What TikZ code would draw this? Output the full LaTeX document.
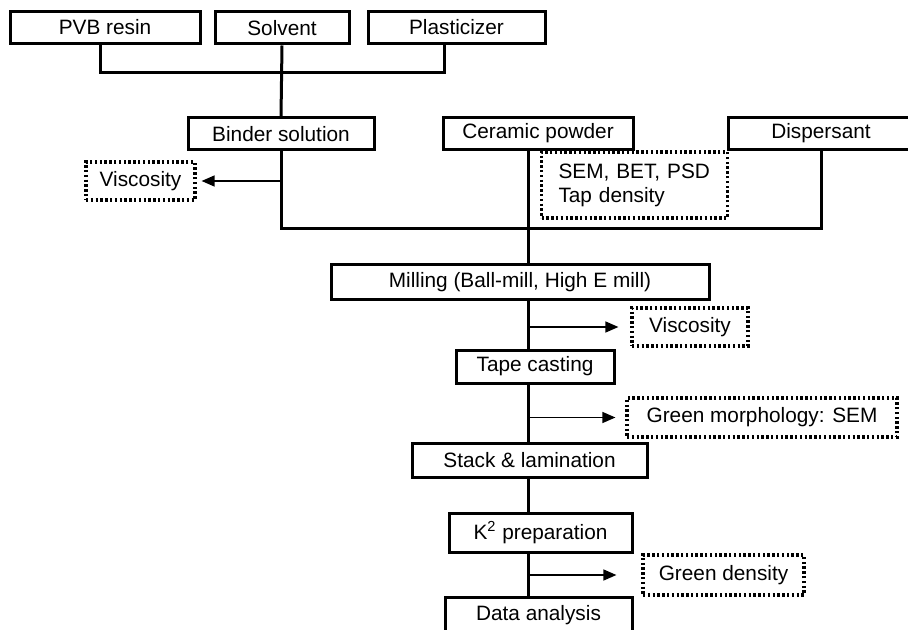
\documentclass[tikz,border=0pt]{standalone}
\usepackage{fontspec}
\setmainfont{Liberation Sans}
\usetikzlibrary{arrows.meta}
\tikzset{
  stepbox/.style={draw, line width=1.5pt, inner sep=0pt, minimum height=16pt},
  testbox/.style={draw, line width=1.6pt, dash pattern=on 1.2pt off 1.2pt, inner sep=0pt},
  feed/.style={line width=1.5pt},
  probe/.style={line width=0.7pt, -{Triangle[length=6.5pt,width=5.5pt]}},
}

\begin{document}
\begin{tikzpicture}[x=0.5pt, y=-0.5pt, font=\fontsize{10.4}{12}\selectfont]
  \useasboundingbox (0,0) rectangle (908,630);
  \node[stepbox, minimum width=95pt] (pvb) at (105,27.5) {PVB resin};
  \node[stepbox, minimum width=67pt] (solvent) at (282,28) {Solvent};
  \node[stepbox, minimum width=88.5pt] (plast) at (456.5,27.5) {Plasticizer};
  \node[stepbox, minimum width=93pt] (binder) at (281,134) {Binder solution};
  \node[stepbox, minimum width=95pt] (ceramic) at (538,133.5) {Ceramic powder};
  \node[stepbox, minimum width=93pt] (disp) at (821,133.5) {Dispersant};
  \node[testbox, minimum width=54.5pt, minimum height=19pt] (visc1) at (140.5,181) {Viscosity};
  \node[testbox, minimum height=33pt, text width=76pt, align=left, inner xsep=8.5pt] (sem) at (634.5,185)
    {SEM, BET, PSD\\Tap density};
  \node[stepbox, minimum width=189pt, minimum height=17pt] (milling) at (520,282) {Milling (Ball-mill, High E mill)};
  \node[testbox, minimum width=58pt, minimum height=19pt] (visc2) at (690,327) {Viscosity};
  \node[stepbox, minimum width=79pt, minimum height=16.5pt] (tape) at (535,366.5) {Tape casting};
  \node[testbox, minimum width=135pt, minimum height=19.5pt] (morph) at (762,417.5) {Green morphology: SEM};
  \node[stepbox, minimum width=117.5pt, minimum height=17pt] (stack) at (529.5,460) {Stack \& lamination};
  \node[stepbox, minimum width=91.5pt, minimum height=19.5pt] (ktwo) at (540.5,532.5) {K\textsuperscript{2} preparation};
  \node[testbox, minimum width=80.5pt, minimum height=20pt] (density) at (723.5,575) {Green density};
  \node[stepbox, minimum width=93.5pt, minimum height=18pt] (data) at (538.5,615) {Data analysis};

  \coordinate (jtop) at (282,73);
  \coordinate (jmix) at (528,229);
  \draw[feed] ([xshift=-2.5pt]pvb.south) |- (jtop) -| ([xshift=-6pt]plast.south);
  \draw[feed] (solvent.south) -- (binder.north);
  \draw[feed] (binder.south) |- (jmix) -| (disp.south);
  \draw[feed] ([xshift=-5pt]ceramic.south) -- (jmix) -- (jmix |- milling.north);
  \foreach \a/\b in {milling/tape, tape/stack, stack/ktwo, ktwo/data}
    \draw[feed] (jmix |- \a.south) -- (jmix |- \b.north);

  \draw[probe] (binder.south |- visc1) -- ([xshift=2.5pt]visc1.east);
  \draw[probe] (jmix |- visc2) -- ([xshift=-6pt]visc2.west);
  \draw[probe] (jmix |- morph) -- ([xshift=-5pt]morph.west);
  \draw[probe] (jmix |- density) -- ([xshift=-12.5pt]density.west);
\end{tikzpicture}
\end{document}
